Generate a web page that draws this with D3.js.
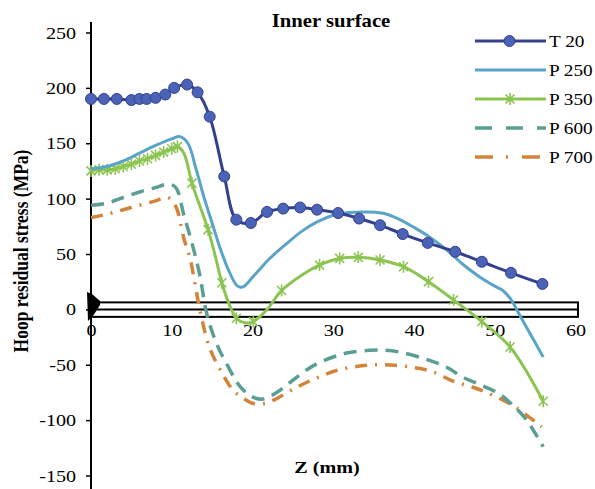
<!DOCTYPE html>
<html>
<head>
<meta charset="utf-8">
<script src="https://cdn.jsdelivr.net/npm/d3@7"></script>
<style>
  body { margin: 0; background: #fff; }
  text { font-family: "Liberation Serif", "Times New Roman", serif; fill: #000; }
</style>
</head>
<body>
<div id="chart"></div>
<script>
// data (Z in mm, stress in MPa)
var t20X = [0, 1.6, 3.2, 5.0, 6.0, 6.9, 8.0, 9.2, 10.3, 11.9, 13.2, 14.7, 16.5, 18.0, 19.8, 21.8, 23.8, 25.9, 28.0, 30.6, 33.2, 35.8, 38.6, 41.7, 45.1, 48.4, 52.0, 55.9];
var t20Y = [190, 190, 190, 189, 190, 190, 191, 194, 200, 203, 196, 174, 120, 81, 78, 88, 91, 92, 90, 87, 82, 76, 68, 60, 52, 43, 33, 23];

var p250X = [0, 2, 4, 6, 8, 10, 11, 12, 13, 14, 15, 16, 17, 18, 18.5, 19, 20, 21, 22, 24, 26, 28, 30, 32, 34, 36, 38, 40, 42, 44, 46, 48, 50, 51, 52, 53, 54, 55, 56];
var p250Y = [127, 129, 134, 141, 148, 154, 156, 150, 127, 101, 78, 55, 36, 22, 20, 21, 29, 37, 45, 58, 70, 79, 85, 87.5, 88, 87, 82, 74, 65, 54, 41, 30, 21, 17, 9, -4, -17, -30, -43];

var p350X = [0, 1, 2, 3, 4, 5, 6, 7, 8, 9, 10, 10.7, 11.5, 12.5, 13.5, 14.5, 15.5, 16.2, 17.2, 18, 19, 20.1, 21.7, 23.6, 25.9, 28.3, 30.8, 33.1, 35.8, 38.7, 41.8, 44.9, 48.4, 51.9, 56];
var p350Y = [125, 126, 126, 127, 129, 131, 134, 136, 139, 142, 145, 147, 141, 114, 93, 72, 45, 24, 3, -8, -12, -11, -1, 17, 30, 40, 46, 47, 44.6, 38.5, 25, 8.5, -11, -34, -83];
var p350Marks = [0, 1, 2, 3, 4, 5, 6, 7, 8, 9, 10, 10.7, 12.5, 14.5, 16.2, 18, 20.1, 23.6, 28.3, 30.8, 33.1, 35.8, 38.7, 41.8, 44.9, 48.4, 51.9, 56];

var p600X = [0, 2, 4, 6, 8, 9.5, 10.5, 11.5, 12.5, 13.5, 14.3, 15.5, 17, 18.5, 20, 21.3, 23, 25, 27.5, 30, 32, 34.5, 36.5, 38.5, 41.5, 44, 46, 48.5, 50.5, 52, 53.5, 54.5, 56];
var p600Y = [94, 96, 101, 106, 110, 113, 110, 85, 60, 30, -3, -30, -52, -70, -79, -81, -75, -64, -51, -43, -39, -37, -37, -39, -45, -52, -61, -69, -76, -85, -96, -106, -124];

var p700X = [0, 2, 4, 6, 8, 9.5, 10.5, 11.5, 12.3, 12.9, 13.5, 14.7, 16.2, 17.6, 19, 20.1, 21.5, 22.6, 25.3, 27.9, 30.5, 33.5, 36.4, 39.5, 42.2, 44.9, 47.6, 50.2, 52.7, 55.8];
var p700Y = [83, 86, 90, 94, 98, 101, 93, 64, 45, 22, -1, -35, -57, -73, -81, -85, -85, -82, -71, -62, -55, -51, -50, -52, -56, -65, -71, -79, -89, -106];

var yTicks = [-150, -100, -50, 0, 50, 100, 150, 200, 250];
var xTicks = [0, 10, 20, 30, 40, 50, 60];
var seriesNames = ["T 20", "P 250", "P 350", "P 600", "P 700"];
var colors = ["#34418c", "#5ba4c9", "#8cc452", "#5a9e94", "#d2843a"];

var width = 595, height = 489;
var stretch = 1.15; // text in the picture is a bit wide

var svg = d3.select("#chart")
  .append("svg")
    .attr("width", width)
    .attr("height", height);

var x = d3.scaleLinear().domain([0, 60]).range([91, 575.5]);
var y = d3.scaleLinear().domain([-150, 250]).range([475.5, 32.5]);

function zip(xs, ys) {
  return xs.map(function (v, i) { return [v, ys[i]]; });
}

var line = d3.line()
    .x(function (d) { return x(d[0]); })
    .y(function (d) { return y(d[1]); })
    .curve(d3.curveCatmullRom.alpha(0.5));

// plain hyphen for negatives, like the original
var fmt = function (d) { return String(d); };

// y axis
var yAxis = svg.append("g")
    .attr("transform", "translate(" + x(0) + ",0)")
    .call(d3.axisLeft(y).tickValues(yTicks).tickFormat(fmt).tickSize(5).tickPadding(8));
yAxis.select(".domain").remove();
yAxis.selectAll("line").attr("stroke", "#000").attr("stroke-width", 1.5);
yAxis.selectAll("text")
    .attr("font-size", "17.5px")
    .attr("font-family", "Liberation Serif, serif")
    .attr("transform", "scale(" + stretch + ",1)");

svg.append("line")
    .attr("x1", x(0)).attr("x2", x(0))
    .attr("y1", 22).attr("y2", height)
    .attr("stroke", "#000").attr("stroke-width", 2);

// x axis sits at zero, framed by a thin box
svg.append("rect")
    .attr("x", x(0)).attr("y", y(0) - 7)
    .attr("width", 578 - x(0)).attr("height", 14.5)
    .attr("fill", "none").attr("stroke", "#000").attr("stroke-width", 2);

var xAxis = svg.append("g")
    .attr("transform", "translate(0," + y(0) + ")")
    .call(d3.axisBottom(x).tickValues(xTicks).tickFormat(fmt).tickSize(0).tickPadding(14));
xAxis.select(".domain").attr("stroke", "#000").attr("stroke-width", 2)
    .attr("d", "M" + x(0) + ",0H578");
xAxis.selectAll("text")
    .attr("font-size", "17.5px")
    .attr("font-family", "Liberation Serif, serif")
    .attr("transform", "scale(" + stretch + ",1)");

// black wedge at the origin
svg.append("path")
    .attr("d", "M87,292 L92,294 L100,301 L100,305 L93,316 L88,321 Z")
    .attr("fill", "#000");

// series
svg.append("path").datum(zip(p700X, p700Y))
    .attr("d", line).attr("fill", "none")
    .attr("stroke", colors[4]).attr("stroke-width", 3.5)
    .attr("stroke-dasharray", "12,8,2,8");

svg.append("path").datum(zip(p600X, p600Y))
    .attr("d", line).attr("fill", "none")
    .attr("stroke", colors[3]).attr("stroke-width", 3.5)
    .attr("stroke-dasharray", "13,8");

svg.append("path").datum(zip(p350X, p350Y))
    .attr("d", line).attr("fill", "none")
    .attr("stroke", colors[2]).attr("stroke-width", 3);

var star = "M-4.5,-4.5L4.5,4.5M-4.5,4.5L4.5,-4.5M0,-6L0,6";
svg.append("g").selectAll("path")
    .data(p350Marks)
    .enter()
    .append("path")
    .attr("transform", function (d) {
      var i = p350X.indexOf(d);
      return "translate(" + x(d) + "," + y(p350Y[i]) + ")";
    })
    .attr("d", star)
    .attr("stroke", colors[2]).attr("stroke-width", 1.6).attr("fill", "none");

svg.append("path").datum(zip(p250X, p250Y))
    .attr("d", line).attr("fill", "none")
    .attr("stroke", colors[1]).attr("stroke-width", 3);

svg.append("path").datum(zip(t20X, t20Y))
    .attr("d", line).attr("fill", "none")
    .attr("stroke", colors[0]).attr("stroke-width", 3);

svg.append("g").selectAll("circle")
    .data(zip(t20X, t20Y))
    .enter()
    .append("circle")
    .attr("cx", function (d) { return x(d[0]); })
    .attr("cy", function (d) { return y(d[1]); })
    .attr("r", 5.5)
    .attr("fill", "#4a63b6")
    .attr("stroke", "#34418c")
    .attr("stroke-width", 1);

// titles
svg.append("text")
    .attr("transform", "translate(331,27) scale(" + stretch + ",1)")
    .attr("text-anchor", "middle")
    .attr("font-size", "18px")
    .attr("font-weight", "bold")
    .text("Inner surface");

svg.append("text")
    .attr("transform", "translate(327,473) scale(" + stretch + ",1)")
    .attr("text-anchor", "middle")
    .attr("font-size", "17.5px")
    .attr("font-weight", "bold")
    .text("Z (mm)");

svg.append("text")
    .attr("transform", "translate(28,251) scale(" + stretch + ",1) rotate(-90)")
    .attr("text-anchor", "middle")
    .attr("font-size", "17.5px")
    .attr("font-weight", "bold")
    .text("Hoop residual stress (MPa)");

// legend
var legendDash = [null, null, null, "17,14", "18,13,2,14"];
var legend = svg.append("g").selectAll("g")
    .data(seriesNames)
    .enter()
    .append("g")
    .attr("transform", function (d, i) { return "translate(475," + (41 + i * 29) + ")"; });

legend.append("line")
    .attr("x1", 0).attr("x2", 71)
    .attr("stroke", function (d, i) { return colors[i]; })
    .attr("stroke-width", function (d, i) { return i > 2 ? 3.5 : 3; })
    .attr("stroke-dasharray", function (d, i) { return legendDash[i]; });

legend.filter(function (d, i) { return i === 0; })
  .append("circle")
    .attr("cx", 34.5).attr("r", 5.5)
    .attr("fill", "#4a63b6").attr("stroke", "#34418c");

legend.filter(function (d, i) { return i === 2; })
  .append("path")
    .attr("transform", "translate(35,0)")
    .attr("d", star)
    .attr("stroke", colors[2]).attr("stroke-width", 1.6).attr("fill", "none");

legend.append("text")
    .attr("transform", "translate(74,6) scale(1.1,1)")
    .attr("font-size", "17.5px")
    .text(function (d) { return d; });
</script>
</body>
</html>
